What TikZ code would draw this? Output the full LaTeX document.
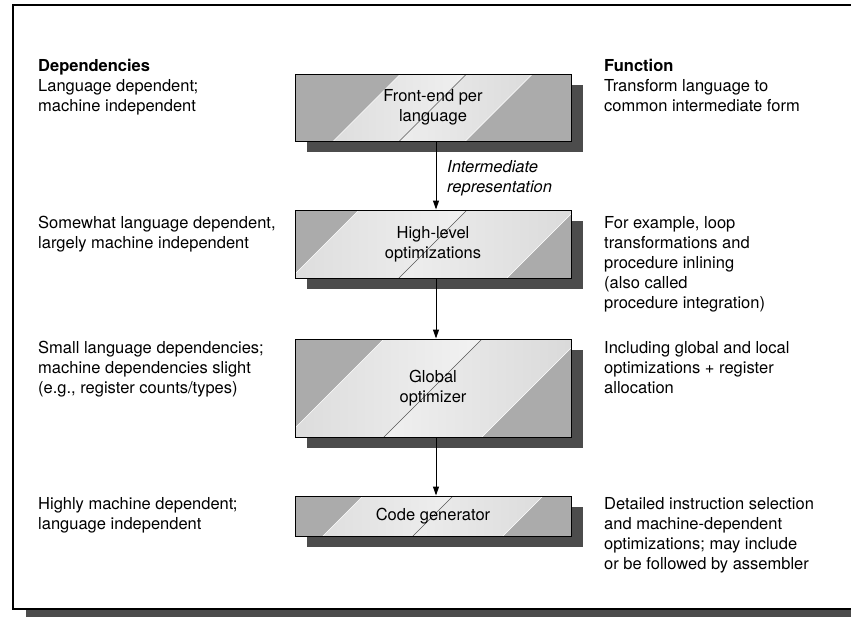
\documentclass[tikz,border=0pt]{standalone}
\usepackage{fontspec}
\setmainfont{TeX Gyre Heros}
\usetikzlibrary{arrows.meta,shadows,calc}
\tikzset{
	txt/.style={anchor=north west, inner sep=0pt, align=left, font=\fontsize{16.5}{20}\selectfont},
	frame/.style={line width=1.5pt, fill=white, general shadow={fill=black!70, shadow xshift=13pt, shadow yshift=-9pt}},
	flow/.style={line width=1pt, -{Triangle[length=9pt,width=6pt]}},
	stage/.style={draw, line width=1pt, fill=gray!66, minimum width=276pt, inner sep=0pt, align=center,
		font=\fontsize{16.5}{20}\selectfont,
		general shadow={fill=black!70, shadow xshift=12pt, shadow yshift=-11pt},
		path picture={
			\coordinate (c) at (path picture bounding box.center);
			\shade[left color=gray!30, right color=gray!8] ($(c)+(-#1-70,70)$) -- ($(c)+(-#1+70,-70)$) -- ($(c)+(70,-70)$) -- ($(c)+(-70,70)$) -- cycle;
			\shade[left color=gray!10, right color=gray!32] ($(c)+(-70,70)$) -- ($(c)+(70,-70)$) -- ($(c)+(#1+70,-70)$) -- ($(c)+(#1-70,70)$) -- cycle;
			\draw[white, line width=0.6pt] ($(c)+(-#1-70,70)$) -- ($(c)+(-#1+70,-70)$);
			\draw[white, line width=0.6pt] ($(c)+(#1-70,70)$) -- ($(c)+(#1+70,-70)$);
			\draw[black!65, line width=0.5pt] ($(c)+(-70,70)$) -- ($(c)+(70,-70)$);
		}}
}
\begin{document}
\begin{tikzpicture}[x=1pt, y=-1pt]
	\useasboundingbox (0,0) rectangle (851,616);
	\clip (0,0) rectangle (851,616);
	%frame
		\draw[frame] (13,5) rectangle (866,609);
	%stages
		\node[stage=66, minimum height=67pt] (front) at (433,107.5) {Front-end per\\language};
		\node[stage=108, minimum height=68pt] (high) at (433,244) {High-level\\optimizations};
		\node[stage=98, minimum height=98pt] (glob) at (433,388) {Global\\optimizer};
		\node[stage=90, minimum height=40pt] (code) at (433,516) {Code generator};
	%arrows
		\draw[flow] ([xshift=3pt]front.south) -- ([xshift=3pt]high.north);
		\draw[flow] ([xshift=3pt]high.south) -- ([xshift=3pt]glob.north);
		\draw[flow] ([xshift=3pt]glob.south) -- ([xshift=3pt]code.north);
		\node[txt, font=\fontsize{16.5}{20}\selectfont\itshape] (inter) at (447,160) {Intermediate\\representation};
	%dependencies
		\node[txt, font=\fontsize{16.5}{20}\selectfont\bfseries] (dephead) at (38,59) {Dependencies};
		\node[txt] (dep1) at (38,79) {Language dependent;\\machine independent};
		\node[txt] (dep2) at (38,216) {Somewhat language dependent,\\largely machine independent};
		\node[txt] (dep3) at (38,341) {Small language dependencies;\\machine dependencies slight\\(e.g., register counts/types)};
		\node[txt] (dep4) at (38,497) {Highly machine dependent;\\language independent};
	%function
		\node[txt, font=\fontsize{16.5}{20}\selectfont\bfseries] (funchead) at (604,59) {Function};
		\node[txt] (fun1) at (604,79) {Transform language to\\common intermediate form};
		\node[txt] (fun2) at (604,216) {For example, loop\\transformations and\\procedure inlining\\(also called\\procedure integration)};
		\node[txt] (fun3) at (604,341) {Including global and local\\optimizations + register\\allocation};
		\node[txt] (fun4) at (604,497) {Detailed instruction selection\\and machine-dependent\\optimizations; may include\\or be followed by assembler};
\end{tikzpicture}
\end{document}
